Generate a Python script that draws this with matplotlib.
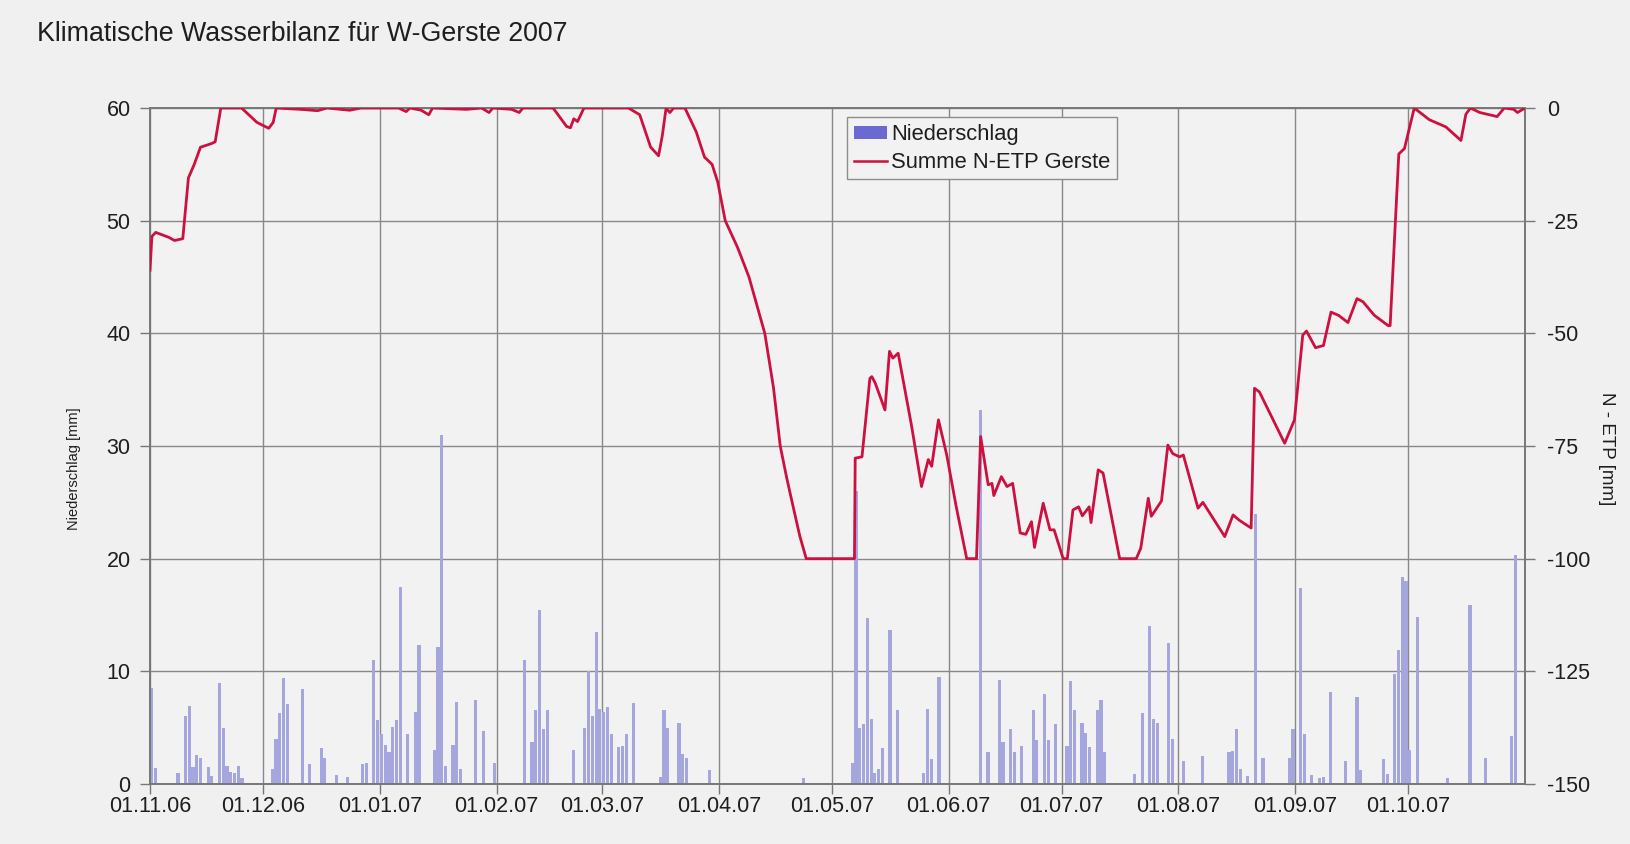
import matplotlib
matplotlib.use("Agg")
import matplotlib.pyplot as plt
from matplotlib.patches import Patch
from matplotlib.lines import Line2D

plt.rcParams['font.family'] = ['Liberation Sans', 'DejaVu Sans']
plt.rcParams['axes.unicode_minus'] = False

title = "Klimatische Wasserbilanz für W-Gerste 2007"
month_days = [0, 30, 61, 92, 120, 151, 181, 212, 242, 273, 304, 334]
month_labels = ["01.11.06", "01.12.06", "01.01.07", "01.02.07", "01.03.07", "01.04.07",
                "01.05.07", "01.06.07", "01.07.07", "01.08.07", "01.09.07", "01.10.07"]

# daily precipitation (day index since 01.11.06, mm)
rain_day = [0, 1, 7, 9, 10, 11, 12, 13, 15, 16, 18, 19, 20, 21, 22, 23, 24,
            32, 33, 34, 35, 36, 40, 42, 45, 46, 49, 52, 56, 57,
            59, 60, 61, 62, 63, 64, 65, 66, 68, 70, 71, 75, 76, 77, 78, 80, 81, 82, 86, 88, 91,
            99, 101, 102, 103, 104, 105, 112, 115, 116, 117, 118, 119, 120, 121, 122, 124, 125,
            126, 128, 135, 136, 137, 140, 141, 142, 148, 173,
            186, 187, 188, 189, 190, 191, 192, 193, 194, 196, 198, 205, 206, 207, 209,
            220, 222, 225, 226, 228, 229, 231, 234, 235, 237, 238, 240,
            243, 244, 245, 247, 248, 249, 251, 252, 253, 261, 263, 265, 266, 267, 270, 271,
            274, 279, 286, 287, 288, 289, 291, 293, 295,
            302, 303, 305, 306, 308, 310, 311, 313, 317, 320, 321, 327, 328, 330, 331, 332, 333,
            334, 336, 344, 350, 354, 361, 362]
rain_mm = [8.5, 1.4, 1.0, 6.0, 6.9, 1.5, 2.6, 2.3, 1.5, 0.7, 9.0, 5.0, 1.6, 1.1, 1.0, 1.6, 0.5,
           1.3, 4.0, 6.3, 9.4, 7.1, 8.4, 1.8, 3.2, 2.3, 0.8, 0.6, 1.8, 1.9,
           11.0, 5.7, 4.4, 3.5, 2.8, 5.1, 5.7, 17.5, 4.4, 6.4, 12.3, 3.0, 12.2, 31.0, 1.6, 3.5, 7.3, 1.3, 7.5, 4.7, 1.9,
           11.0, 3.7, 6.6, 15.4, 4.9, 6.6, 3.0, 5.0, 10.0, 6.0, 13.5, 6.7, 6.4, 6.8, 4.4, 3.3, 3.4,
           4.4, 7.2, 0.6, 6.6, 5.0, 5.4, 2.7, 2.3, 1.2, 0.5,
           1.9, 26.0, 5.0, 5.3, 14.7, 5.8, 1.0, 1.3, 3.2, 13.7, 6.6, 1.0, 6.7, 2.2, 9.5,
           33.2, 2.8, 9.2, 3.7, 4.9, 2.8, 3.4, 6.6, 3.9, 8.0, 3.9, 5.3,
           3.4, 9.1, 6.6, 5.4, 4.5, 3.3, 6.6, 7.5, 2.8, 0.9, 6.3, 14.0, 5.8, 5.4, 12.5, 4.0,
           2.0, 2.5, 2.8, 2.9, 4.9, 1.3, 0.7, 24.0, 2.3,
           2.3, 4.9, 17.4, 4.4, 0.8, 0.5, 0.6, 8.2, 2.0, 7.7, 1.2, 2.2, 0.9, 9.8, 11.9, 18.4, 18.0,
           3.0, 14.8, 0.5, 15.9, 2.3, 4.3, 20.3]

# cumulative N-ETP (mm), read at the line's turning points
wb_day = [0, 0.5, 1.5, 5, 6.5, 8.7, 10.2, 11.7, 13.4, 16.3, 17.3, 18.8, 24.3, 28.4, 31.5, 32.7, 33.5,
          40, 44.5, 47, 53, 56, 66, 68, 69, 72, 74, 75, 84, 88, 90, 91, 96, 98, 99, 107,
          110.6, 111.6, 112.5, 113.5, 115.2, 127, 130, 132.9, 135, 136, 137, 138, 139, 142,
          145, 147.2, 149.2, 150.7, 152.7, 156, 159, 163.2, 165.5, 167.3, 169, 170.6, 172.5, 174.2,
          187,
          187.2, 189, 191.1, 191.6, 192.5, 195.1, 196.3, 197.2, 198.6, 202.2, 204.8, 206.6, 207.5,
          209.3, 211.5, 214, 216.8, 219.4, 220.5, 222.5, 223.5, 224, 226, 227.5, 229, 231, 232.5,
          234, 234.8, 237.1, 238.9, 240, 242.4, 243.5, 245, 246.5, 247.5, 249.3, 249.8, 251.7, 253,
          257.4, 261.8, 263, 265, 265.8, 268.5, 270.2, 271.5, 273.3, 274.3, 278.2, 279.5, 285.3,
          287.5, 289.2, 292.3, 293.2, 294.5, 301.2, 303.8, 306, 307, 309.4, 311.5, 313.5, 315.5,
          318, 320.4, 322, 325, 328.7, 329.2, 331.5, 333, 335.6, 339.6, 344, 348, 349.3, 350.5,
          353, 357.6, 359.5, 362, 363, 365]
wb_mm = [-36, -28.5, -27.6, -28.7, -29.4, -29, -15.5, -12.6, -8.7, -7.9, -7.5, 0, 0, -3.2, -4.5, -3.2, 0,
         -0.3, -0.6, 0, -0.5, 0, 0, -0.8, 0, -0.5, -1.5, 0, -0.3, 0, -1.0, 0, -0.3, -1.0, 0, 0,
         -4.1, -4.4, -2.4, -3.0, 0, 0, -1.5, -8.7, -10.6, -6.1, 0, -1.0, 0, 0,
         -5.3, -10.9, -12.5, -16.4, -25, -31, -37.5, -50, -62, -75, -82, -88, -95, -100,
         -100,
         -77.7, -77.4, -60, -59.6, -61, -67, -54, -55.5, -54.4, -70.7, -84, -78, -79.5,
         -69.2, -77, -88.4, -100, -100, -72.9, -83.6, -83.3, -86, -81.8, -84, -83.3, -94.3, -94.6,
         -91.8, -97.5, -87.7, -93.6, -93.6, -100, -100, -89.2, -88.5, -90.5, -88.5, -92, -80.3, -81,
         -100, -100, -97.7, -86.6, -90.6, -87.2, -74.8, -76.7, -77.4, -77.0, -88.8, -87.5, -95.1,
         -90.3, -91.5, -93.2, -62.2, -63, -74.4, -69.2, -50.4, -49.5, -53.2, -52.7, -45.3, -46,
         -47.6, -42.3, -43, -46, -48.3, -48.3, -10.2, -9, 0, -2.6, -4.2, -7.2, -1.4, 0,
         -1, -1.9, 0, -0.3, -1, 0]

BG = '#f0f0f0'
TXT = '#1e1e1e'
fig = plt.figure(figsize=(16.31, 8.44), dpi=100, facecolor=BG)
ax = fig.add_axes([150/1631, 1-784/844, (1525-150)/1631, (784-108)/844])
ax.set_facecolor('#f2f2f2')
ax2 = ax.twinx()

ax.bar(rain_day, rain_mm, width=0.85, color='#a6a6de', align='edge', zorder=2)
ax.set_xlim(0, 365)
ax.set_ylim(0, 60)
ax.set_yticks(range(0, 61, 10))
ax.set_xticks(month_days)
ax.set_xticklabels(month_labels)
ax.grid(True, color='#888888', linewidth=1.0, zorder=0)
ax.set_axisbelow(True)

ax2.plot(wb_day, wb_mm, color='#cc1040', linewidth=2.0, zorder=3)
ax2.set_ylim(-150, 0)
ax2.set_yticks([0, -25, -50, -75, -100, -125, -150])

for a in (ax, ax2):
    for s in a.spines.values():
        s.set_color('#777777')
        s.set_linewidth(1.2)
    a.tick_params(colors='#777777', labelcolor=TXT, length=7, width=1.0,
                  labelsize=15.5, direction='out')
ax.tick_params(axis='y', pad=7)
ax.tick_params(axis='x', pad=2)
ax2.tick_params(axis='y', pad=9)

ax.set_ylabel("Niederschlag [mm]", fontsize=10.5, color=TXT)
ax.yaxis.set_label_coords(-0.050, 0.467)
ax2.set_ylabel("N - ETP [mm]", fontsize=13.5, color=TXT, rotation=-90, va='center')
ax2.yaxis.set_label_coords(1.0596, 0.496)

fig.text(37/1631, 1-34/844, title, fontsize=19.3, color=TXT, va='center', ha='left')

handles = [Patch(facecolor='#6a6ad0', edgecolor='none'),
           Line2D([0], [0], color='#cc1040', linewidth=1.8)]
leg = ax2.legend(handles, ["Niederschlag", "Summe N-ETP Gerste"], loc='upper left',
                 bbox_to_anchor=(0.507, 0.986), fontsize=15.8, frameon=True, fancybox=False,
                 edgecolor='#8c8c8c', facecolor='#f2f2f2', framealpha=1, handlelength=1.5,
                 handleheight=0.5, borderpad=0.3, labelspacing=0.3, handletextpad=0.2,
                 borderaxespad=0)
leg.get_frame().set_linewidth(1.0)
for t in leg.get_texts():
    t.set_color(TXT)

fig.savefig("out.png", dpi=100, facecolor=BG)
